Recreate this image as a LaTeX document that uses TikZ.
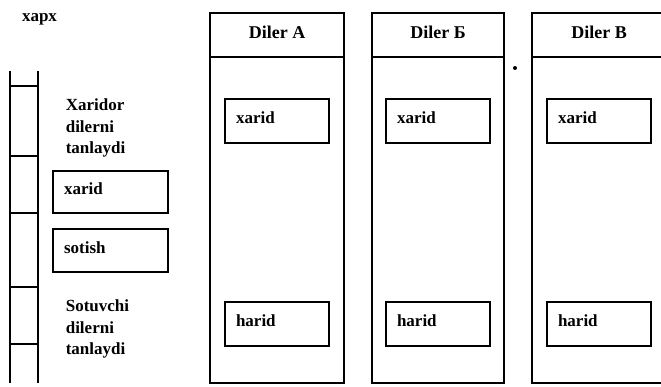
\documentclass[tikz,border=0pt]{standalone}
\usepackage{fontspec}
\setmainfont{Liberation Serif}
\begin{document}
\begin{tikzpicture}[x=1pt,y=-1pt,line width=1.6pt,
  lbl/.style={font=\fontsize{17}{21.5}\selectfont\bfseries},
  hdr/.style={draw,rectangle,minimum width=#1,minimum height=44pt,inner sep=0pt,
    text height=12pt,text depth=5.5pt,font=\fontsize{18}{21.5}\selectfont\bfseries},
  body/.style={draw,rectangle,minimum width=#1,minimum height=326pt,inner sep=0pt},
  act/.style={draw,rectangle,minimum width=#1,text width=#1-22pt,inner xsep=11pt,inner ysep=0pt,
    align=left,text height=12pt,text depth=7pt,lbl},
  note/.style={inner sep=0pt,align=left,anchor=west,lbl}]
\useasboundingbox (0,0) rectangle (661,386);
% title
\node[lbl,inner sep=0pt] (title) at (39.5,19) {xapx};
% left strip
\coordinate (s1t) at (10,71); \coordinate (s1b) at (10,383);
\coordinate (s2t) at (38,71); \coordinate (s2b) at (38,383);
\draw (s1t) -- (s1b);
\draw (s2t) -- (s2b);
\foreach \yy/\nm in {86/h1,156/h2,213/h3,287/h4,344/h5}{
  \coordinate (\nm l) at (10,\yy); \coordinate (\nm r) at (38,\yy);
  \draw (\nm l) -- (\nm r);
}
% left texts and boxes
\node[note] (buyer) at (65,128) {Xaridor\\dilerni\\tanlaydi};
\node[act=115pt,minimum height=42pt] (lx) at (110.5,192) {xarid};
\node[act=115pt,minimum height=43pt] (ls) at (110.5,250.5) {sotish};
\node[note] (seller) at (65,329) {Sotuvchi\\dilerni\\tanlaydi};
% dealer columns
\node[hdr=134pt] (hA) at (277,35) {Diler A};
\node[body=134pt] (bA) at (277,220) {};
\node[hdr=132pt] (hB) at (438,35) {Diler Б};
\node[body=132pt] (bB) at (438,220) {};
\node[hdr=134pt] (hC) at (599,35) {Diler B};
\node[body=134pt] (bC) at (599,220) {};
% boxes in columns
\node[act=104pt,minimum height=44pt] (xA) at (277,121) {xarid};
\node[act=104pt,minimum height=44pt] (xB) at (438,121) {xarid};
\node[act=104pt,minimum height=44pt] (xC) at (599,121) {xarid};
\node[act=104pt,minimum height=44pt] (hrA) at (277,324) {harid};
\node[act=104pt,minimum height=44pt] (hrB) at (438,324) {harid};
\node[act=104pt,minimum height=44pt] (hrC) at (599,324) {harid};
% stray dot
\fill (515,68) circle (2pt);
\end{tikzpicture}
\end{document}
